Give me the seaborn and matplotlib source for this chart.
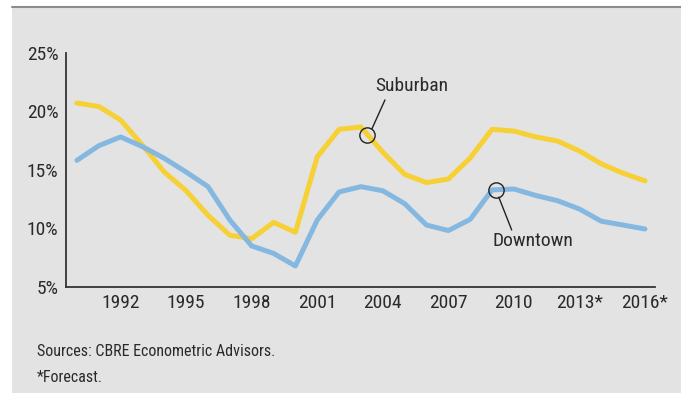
import matplotlib
matplotlib.use("Agg")
import matplotlib.pyplot as plt
import seaborn as sns
import pandas as pd
from matplotlib.patches import Rectangle
from matplotlib.lines import Line2D
from matplotlib import font_manager

years = list(range(1990, 2017))
suburban = [20.7, 20.4, 19.25, 17.1, 14.8, 13.2, 11.1, 9.4, 9.1, 10.5, 9.65,
            16.1, 18.45, 18.65, 16.5, 14.6, 13.9, 14.2, 16.0, 18.45, 18.3,
            17.8, 17.45, 16.6, 15.5, 14.7, 14.05]
downtown = [15.8, 17.05, 17.8, 16.97, 15.97, 14.8, 13.55, 10.7, 8.48, 7.85, 6.77,
            10.7, 13.1, 13.55, 13.2, 12.1, 10.27, 9.8, 10.75, 13.27, 13.35,
            12.8, 12.35, 11.64, 10.6, 10.27, 9.93]
xtick_years = [1992, 1995, 1998, 2001, 2004, 2007, 2010, 2013, 2016]
xtick_labels = ["1992", "1995", "1998", "2001", "2004", "2007", "2010", "2013*", "2016*"]
yticks = [5, 10, 15, 20, 25]
ytick_labels = ["5%", "10%", "15%", "20%", "25%"]

df = pd.DataFrame({
    "year": years * 2,
    "rate": suburban + downtown,
    "series": ["Suburban"] * len(years) + ["Downtown"] * len(years),
})

sns.set_style("white")
available = {f.name for f in font_manager.fontManager.ttflist}
fam = [f for f in ["Liberation Sans Narrow", "Roboto Condensed", "Roboto", "DejaVu Sans"] if f in available]
plt.rcParams["font.family"] = fam
narrow = fam[0] in ("Liberation Sans Narrow", "Roboto Condensed")
tick_fs = 14 if narrow else 12.3
ann_fs = 14 if narrow else 12.5
src_fs = 11.5 if narrow else 10
text_color = "#2a2a2a"

W, H = 681, 393
fig = plt.figure(figsize=(W / 100, H / 100), dpi=100, facecolor="white")
fig.patches.append(Rectangle((12 / W, 0), 1 - 12 / W, (H - 7) / H,
                             transform=fig.transFigure, facecolor="#e3e3e3",
                             edgecolor="none", zorder=-10))
fig.lines.append(Line2D([12 / W, 1], [(H - 7) / H, (H - 7) / H],
                        transform=fig.transFigure, color="#8c8c8c", lw=1.5, zorder=-5))

ax = fig.add_axes([66 / W, (H - 286.7) / H, (655 - 66) / W, (286.7 - 52.7) / H])
ax.set_zorder(5)
ax.patch.set_visible(False)

sns.lineplot(data=df, x="year", y="rate", hue="series",
             palette={"Suburban": "#f6d035", "Downtown": "#85b8e0"},
             linewidth=3.6, ax=ax, legend=False)

ax.set_xlim(1989.5, 2016.46)
ax.set_ylim(5, 25)
ax.set_xlabel("")
ax.set_ylabel("")

ax.set_xticks(years)
ax.set_xticklabels([xtick_labels[xtick_years.index(y)] if y in xtick_years else "" for y in years])
ax.set_yticks(yticks)
ax.set_yticklabels(ytick_labels)

for s in ["top", "right"]:
    ax.spines[s].set_visible(False)
for s in ["left", "bottom"]:
    ax.spines[s].set_color("#333333")
    ax.spines[s].set_linewidth(1.3)

ax.tick_params(axis="y", direction="in", length=10.8, width=1.3, color="#333333",
               pad=5.5, labelsize=tick_fs, labelcolor=text_color)
ax.tick_params(axis="x", direction="in", length=3.8, width=1.1, color="#333333",
               pad=5.5, labelsize=tick_fs, labelcolor=text_color)

# Callouts
ax.plot([2003.3], [18.0], marker="o", ms=11, mfc="none", mec="#222222", mew=1.0)
ax.plot([2003.5, 2004.1], [18.48, 20.96], color="#222222", lw=1.0)
ax.text(2003.65, 21.4, "Suburban", fontsize=ann_fs, color=text_color, ha="left", va="bottom")

ax.plot([2009.2], [13.3], marker="o", ms=11, mfc="none", mec="#222222", mew=1.0)
ax.plot([2009.31, 2009.9], [12.65, 9.85], color="#222222", lw=1.0)
ax.text(2009.04, 9.68, "Downtown", fontsize=ann_fs, color=text_color, ha="left", va="top")

fig.text(37 / W, 1 - 356 / H, "Sources: CBRE Econometric Advisors.", fontsize=src_fs,
         color=text_color, ha="left", va="baseline")
fig.text(37 / W, 1 - 382 / H, "*Forecast.", fontsize=src_fs,
         color=text_color, ha="left", va="baseline")

fig.savefig("out.png", dpi=100, facecolor="white")
